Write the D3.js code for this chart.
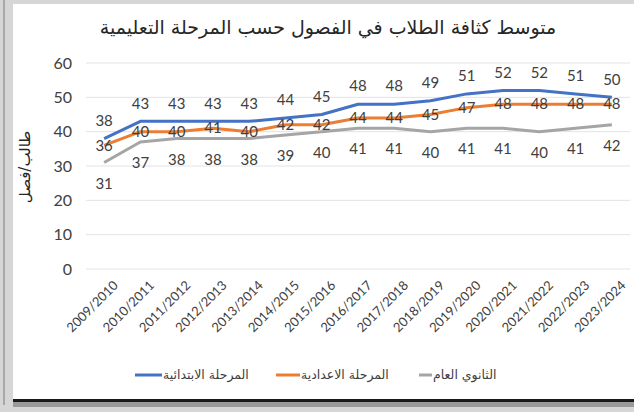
<!DOCTYPE html>
<html>
<head>
<meta charset="utf-8">
<script src="https://cdn.jsdelivr.net/npm/d3@7"></script>
<style>
  body { margin: 0; background: #fff; }
  text { fill: #404040; }
  .grid line { stroke: #e3e3e3; stroke-width: 1; }
  .domain { display: none; }
  .tick line { display: none; }
</style>
</head>
<body>
<div id="chart-area"></div>
<script>
const years = [
  "2009/2010", "2010/2011", "2011/2012", "2012/2013", "2013/2014",
  "2014/2015", "2015/2016", "2016/2017", "2017/2018", "2018/2019",
  "2019/2020", "2020/2021", "2021/2022", "2022/2023", "2023/2024"
];
const primary = [38, 43, 43, 43, 43, 44, 45, 48, 48, 49, 51, 52, 52, 51, 50];
const preparatory = [36, 40, 40, 41, 40, 42, 42, 44, 44, 45, 47, 48, 48, 48, 48];
const secondary = [31, 37, 38, 38, 38, 39, 40, 41, 41, 40, 41, 41, 40, 41, 42];
const seriesNames = ["المرحلة الابتدائية", "المرحلة الاعدادية", "الثانوي العام"];
const yTicks = [0, 10, 20, 30, 40, 50, 60];

const chartTitle = "متوسط كثافة الطلاب في الفصول حسب المرحلة التعليمية";
const yTitle = "طالب/فصل";

const chartSize = { width: 634, height: 412 };
const plot = { left: 86, right: 630, top: 63, bottom: 269 };
const colors = ["#4472c4", "#ed7d31", "#a5a5a5"];
const labelOffsets = [-18, 0, 21];
const numFont = "Lato, 'Liberation Sans', sans-serif";
const arFont = "'DejaVu Sans', sans-serif";

const drawFrame = svg => {
  svg.append("rect").attr("width", chartSize.width).attr("height", chartSize.height).attr("fill", "#d6d6d6");
  svg.append("rect").attr("x", 3).attr("y", 0).attr("width", 2).attr("height", 405).attr("fill", "#a8a8a8");
  svg.append("rect").attr("x", 13).attr("y", 4).attr("width", 621).attr("height", 396).attr("fill", "#fff");
  svg.append("rect").attr("x", 13).attr("y", 399).attr("width", 621).attr("height", 3).attr("fill", "#1a1a1a");
  svg.append("rect").attr("x", 13).attr("y", 402).attr("width", 621).attr("height", 5).attr("fill", "#9a9a9a");
};

const main = () => {
  const svg = d3.select("#chart-area")
    .append("svg")
    .attr("width", chartSize.width)
    .attr("height", chartSize.height);

  drawFrame(svg);

  const x = d3.scalePoint().domain(years).range([plot.left, plot.right]).padding(0.5);
  const y = d3.scaleLinear().domain([0, 60]).range([plot.bottom, plot.top]);

  // gridlines
  svg.append("g")
    .attr("class", "grid")
    .selectAll("line")
    .data(yTicks)
    .join("line")
    .attr("x1", plot.left)
    .attr("x2", plot.right)
    .attr("y1", d => y(d))
    .attr("y2", d => y(d));

  const yAxis = svg.append("g")
    .attr("transform", `translate(${plot.left}, 0)`)
    .call(d3.axisLeft(y).tickValues(yTicks).tickSize(0).tickPadding(14));
  yAxis.selectAll("text")
    .style("font-family", numFont)
    .style("font-size", "16px")
    .style("fill", "#404040");

  const xAxis = svg.append("g")
    .attr("transform", `translate(0, ${plot.bottom})`)
    .call(d3.axisBottom(x).tickSize(0).tickPadding(0));
  xAxis.selectAll("text")
    .style("font-family", numFont)
    .style("font-size", "13px")
    .style("fill", "#404040")
    .attr("text-anchor", "end")
    .attr("dy", "0.35em")
    .attr("transform", "translate(11, 14) rotate(-45)");

  const allSeries = [primary, preparatory, secondary];
  const line = d3.line().x((d, i) => x(years[i])).y(d => y(d));

  // draw back to front so blue sits on top
  [2, 1, 0].forEach(s => {
    svg.append("path")
      .attr("fill", "none")
      .attr("stroke", colors[s])
      .attr("stroke-width", 3)
      .attr("stroke-linejoin", "round")
      .attr("d", line(allSeries[s]));
  });

  allSeries.forEach((values, s) => {
    svg.append("g")
      .selectAll("text")
      .data(values)
      .join("text")
      .attr("x", (d, i) => x(years[i]))
      .attr("y", d => y(d) + labelOffsets[s])
      .attr("dy", "0.35em")
      .attr("text-anchor", "middle")
      .style("font-family", numFont)
      .style("font-size", "15px")
      .text(d => d);
  });

  svg.append("text")
    .attr("x", 328)
    .attr("y", 34)
    .attr("text-anchor", "middle")
    .style("font-family", arFont)
    .style("font-size", "19px")
    .style("fill", "#262626")
    .text(chartTitle);

  svg.append("text")
    .attr("transform", `translate(30, 167) rotate(-90)`)
    .attr("text-anchor", "middle")
    .style("font-family", arFont)
    .style("font-size", "15px")
    .style("fill", "#262626")
    .text(yTitle);

  // legend
  const legendItems = [
    { x: 135, w: 27 },
    { x: 276, w: 24 },
    { x: 419, w: 13 }
  ];
  legendItems.forEach((item, s) => {
    svg.append("line")
      .attr("x1", item.x)
      .attr("x2", item.x + item.w)
      .attr("y1", 375)
      .attr("y2", 375)
      .attr("stroke", colors[s])
      .attr("stroke-width", 3);
    svg.append("text")
      .attr("x", item.x + item.w + 1)
      .attr("y", 375)
      .attr("dy", "0.35em")
      .attr("text-anchor", "start")
      .attr("direction", "ltr")
      .style("font-family", arFont)
      .style("font-size", "12.5px")
      .style("fill", "#404040")
      .text(seriesNames[s]);
  });
};

window.onload = main;
</script>
</body>
</html>
